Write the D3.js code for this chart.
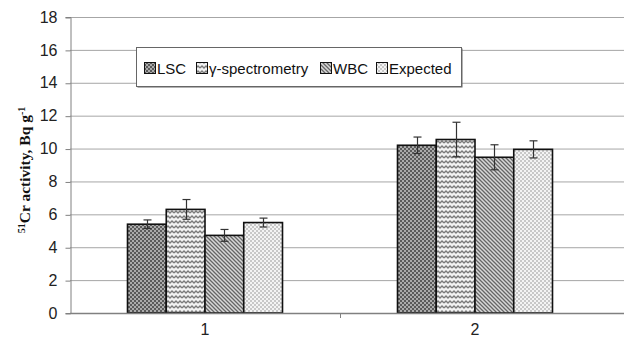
<!DOCTYPE html>
<html>
<head>
<meta charset="utf-8">
<script src="https://cdn.jsdelivr.net/npm/d3@7"></script>
<style>
  body { margin: 0; background: #fff; }
  svg { display: block; }
</style>
</head>
<body>
<svg id="chart" width="624" height="340"></svg>
<script>
// samples and the four methods
const groups = ['1', '2'];
const methods = ['LSC', 'γ-spectrometry', 'WBC', 'Expected'];
const values = [
  [5.4, 6.3, 4.72, 5.5],
  [10.2, 10.55, 9.47, 9.95]
];
const errors = [
  [0.26, 0.6, 0.36, 0.27],
  [0.5, 1.05, 0.76, 0.52]
];
const yTicks = [0, 2, 4, 6, 8, 10, 12, 14, 16, 18];

const svg = d3.select('#chart');
const plotL = 70, plotR = 610, plotT = 17, plotB = 313;

const x = d3.scaleBand().domain(groups).range([plotL, plotR]).paddingInner(0).paddingOuter(0);
const xm = d3.scaleBand().domain(methods).range([0, x.bandwidth()]).paddingInner(0).paddingOuter(1.484);
const y = d3.scaleLinear().domain([0, 18]).range([plotB, plotT]);

// fill patterns, roughly what Excel used
const defs = svg.append('defs');
function pat(id, w, h, draw) {
  const p = defs.append('pattern').attr('id', id).attr('patternUnits', 'userSpaceOnUse')
    .attr('width', w).attr('height', h);
  draw(p);
}
pat('p0', 4, 4, p => {
  p.append('rect').attr('width', 4).attr('height', 4).attr('fill', '#ababab');
  p.append('rect').attr('width', 2).attr('height', 2).attr('fill', '#5a5a5a');
  p.append('rect').attr('x', 2).attr('y', 2).attr('width', 2).attr('height', 2).attr('fill', '#5a5a5a');
});
pat('p1', 8, 5, p => {
  p.append('rect').attr('width', 8).attr('height', 5).attr('fill', '#f2f2f2');
  p.append('path').attr('d', 'M0,3 L2,1 L4,3 L6,1 L8,3').attr('fill', 'none')
    .attr('stroke', '#7a7a7a').attr('stroke-width', 1.3);
});
pat('p2', 4, 4, p => {
  p.append('rect').attr('width', 4).attr('height', 4).attr('fill', '#d8d8d8');
  p.append('path').attr('d', 'M-1,-1 L5,5 M-1,3 L1,5 M3,-1 L5,1').attr('stroke', '#666').attr('stroke-width', 1.3);
});
pat('p3', 4, 4, p => {
  p.append('rect').attr('width', 4).attr('height', 4).attr('fill', '#f4f4f4');
  p.append('rect').attr('width', 2).attr('height', 2).attr('fill', '#c8c8c8');
  p.append('rect').attr('x', 2).attr('y', 2).attr('width', 2).attr('height', 2).attr('fill', '#c8c8c8');
});

// gridlines
svg.append('g').selectAll('line').data(yTicks.filter(d => d > 0)).join('line')
  .attr('x1', plotL).attr('x2', 624)
  .attr('y1', d => y(d) + 0.5).attr('y2', d => y(d) + 0.5)
  .attr('stroke', '#a6a6a6').attr('stroke-width', 1);

// y axis
const yAxis = svg.append('g').attr('transform', `translate(${plotL + 0.5},0)`)
  .call(d3.axisLeft(y).tickValues(yTicks).tickSize(5).tickPadding(8));
yAxis.select('.domain').attr('stroke', '#808080');
yAxis.selectAll('.tick line').attr('stroke', '#808080').attr('transform', 'translate(0,0.5)');
yAxis.selectAll('text').attr('font-family', 'Arial, Liberation Sans, sans-serif')
  .attr('font-size', 16).attr('fill', '#222');

// bars
const bars = svg.append('g').selectAll('g').data(groups).join('g')
  .attr('transform', d => `translate(${x(d)},0)`);
bars.selectAll('rect').data((d, gi) => methods.map((m, mi) => ({ m, mi, v: values[gi][mi] })))
  .join('rect')
  .attr('x', d => xm(d.m)).attr('width', xm.bandwidth())
  .attr('y', d => y(d.v)).attr('height', d => y(0) - y(d.v))
  .attr('fill', d => `url(#p${d.mi})`)
  .attr('stroke', '#111').attr('stroke-width', 1.6);

// error bars
bars.selectAll('g.err').data((d, gi) => methods.map((m, mi) => ({ m, v: values[gi][mi], e: errors[gi][mi] })))
  .join('g').attr('class', 'err')
  .each(function (d) {
    const g = d3.select(this);
    const cx = Math.round(xm(d.m) + xm.bandwidth() / 2) + 0.5;
    g.append('line').attr('x1', cx).attr('x2', cx).attr('y1', y(d.v + d.e)).attr('y2', y(d.v - d.e));
    g.append('line').attr('x1', cx - 4).attr('x2', cx + 4).attr('y1', y(d.v + d.e)).attr('y2', y(d.v + d.e));
    g.append('line').attr('x1', cx - 4).attr('x2', cx + 4).attr('y1', y(d.v - d.e)).attr('y2', y(d.v - d.e));
    g.selectAll('line').attr('stroke', '#333').attr('stroke-width', 1.2);
  });

// x axis (only the tick between the two groups shows)
svg.append('line').attr('x1', plotL).attr('x2', 624).attr('y1', plotB + 0.5).attr('y2', plotB + 0.5)
  .attr('stroke', '#808080').attr('stroke-width', 1.5);
svg.append('line').attr('x1', (plotL + plotR) / 2 + 0.5).attr('x2', (plotL + plotR) / 2 + 0.5)
  .attr('y1', plotB).attr('y2', plotB + 5).attr('stroke', '#808080');
svg.append('g').selectAll('text').data(groups).join('text')
  .attr('x', d => x(d) + x.bandwidth() / 2).attr('y', 335)
  .attr('text-anchor', 'middle').attr('font-family', 'Arial, Liberation Sans, sans-serif')
  .attr('font-size', 16).attr('fill', '#222').text(d => d);

// y title
const yt = svg.append('text').attr('transform', 'translate(30,170) rotate(-90)')
  .attr('text-anchor', 'middle').attr('font-family', 'Times New Roman, Liberation Serif, serif')
  .attr('font-weight', 'bold').attr('font-size', 15.5).attr('fill', '#111');
yt.append('tspan').attr('font-size', 10).attr('dy', -5).text('51');
yt.append('tspan').attr('dy', 5).text('Cr activity, Bq g');
yt.append('tspan').attr('font-size', 10).attr('dy', -5).text('-1');

// legend
const lg = svg.append('g');
lg.append('rect').attr('x', 137.5).attr('y', 48.5).attr('width', 325).attr('height', 39).attr('fill', '#666');
lg.append('rect').attr('x', 136.5).attr('y', 47.5).attr('width', 325).attr('height', 39)
  .attr('fill', '#fff').attr('stroke', '#666').attr('stroke-width', 1);
const legX = [144, 196, 320, 376];
methods.forEach((m, i) => {
  lg.append('rect').attr('x', legX[i] + 0.5).attr('y', 62.5).attr('width', 11).attr('height', 11)
    .attr('fill', `url(#p${i})`).attr('stroke', '#111').attr('stroke-width', 1);
  lg.append('text').attr('x', legX[i] + 13).attr('y', 74)
    .attr('font-family', 'Arial, Liberation Sans, sans-serif').attr('font-size', 15)
    .attr('fill', '#111').text(m);
});
</script>
</body>
</html>
